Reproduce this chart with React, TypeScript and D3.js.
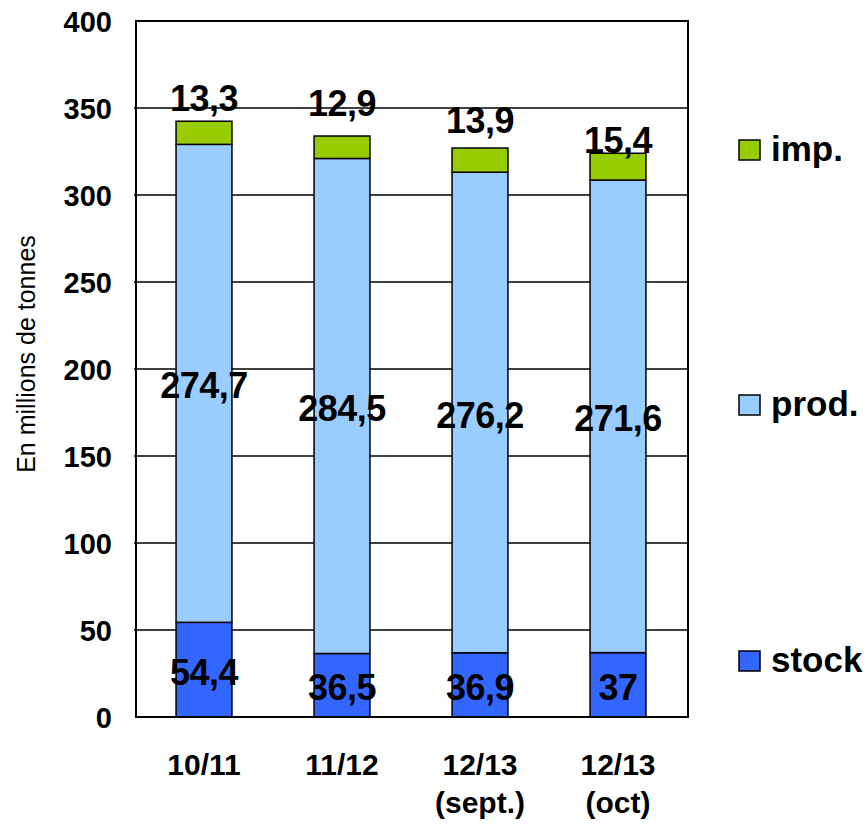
import React from "react";
import * as d3 from "d3";

const categories = ["10/11", "11/12", "12/13|(sept.)", "12/13|(oct)"];
const stock = [54.4, 36.5, 36.9, 37];
const prod = [274.7, 284.5, 276.2, 271.6];
const imp = [13.3, 12.9, 13.9, 15.4];
const stockLabels = ["54,4", "36,5", "36,9", "37"];
const prodLabels = ["274,7", "284,5", "276,2", "271,6"];
const impLabels = ["13,3", "12,9", "13,9", "15,4"];
const impLabelGap = [10, 20, 15, 0];
const yTicks = [0, 50, 100, 150, 200, 250, 300, 350, 400];
const seriesNames = ["stock", "prod.", "imp."];
const colors = ["#3366FF", "#99CCFF", "#99CC00"];

const W = 866;
const H = 825;
const left = 136;
const right = 688;
const top = 21;
const bottom = 717;
const FONT = "'Liberation Sans', Arial, sans-serif";

export default function App() {
  const x = d3.scaleBand<string>().domain(categories).range([left - 1, right - 1]).padding(0);
  const y = d3.scaleLinear().domain([0, 400]).range([bottom, top]);
  const bw = x.bandwidth() * 0.405;

  const rows = categories.map((c, i) => ({ c, stock: stock[i], prod: prod[i], imp: imp[i] }));
  const stacked = d3.stack<any>().keys(["stock", "prod", "imp"])(rows);
  const labelSets = [stockLabels, prodLabels, impLabels];

  const legendY = { "imp.": 140, "prod.": 395, "stock": 651 } as Record<string, number>;

  return (
    <svg width={W} height={H} style={{ position: "absolute", left: 0, top: 0 }} fontFamily={FONT}>
      <rect x={0} y={0} width={W} height={H} fill="#fff" />
      {yTicks.slice(1, -1).map((t) => (
        <line key={t} x1={left - 2} x2={right} y1={y(t)} y2={y(t)} stroke="#000" strokeWidth={1.5} />
      ))}
      {stacked.map((s, si) =>
        s.map((d, i) => (
          <rect
            key={si + "-" + i}
            x={(x(categories[i]) as number) + x.bandwidth() / 2 - bw / 2}
            y={y(d[1])}
            width={bw}
            height={y(d[0]) - y(d[1])}
            fill={colors[si]}
            stroke="#000"
            strokeWidth={1.5}
          />
        ))
      )}
      <rect x={left} y={top} width={right - left} height={bottom - top} fill="none" stroke="#000" strokeWidth={2} />
      {yTicks.map((t) => (
        <text key={t} x={112} y={y(t) + 11} textAnchor="end" fontSize={29} fontWeight="bold" fill="#000">
          {t}
        </text>
      ))}
      <text
        transform={`translate(35,354) rotate(-90)`}
        textAnchor="middle"
        fontSize={25}
        fill="#000"
      >
        En millions de tonnes
      </text>
      {categories.map((c) => {
        const cx = (x(c) as number) + x.bandwidth() / 2;
        return c.split("|").map((line, li) => (
          <text key={c + li} x={cx} y={775 + li * 38} textAnchor="middle" fontSize={30} fontWeight="bold" fill="#000">
            {line}
          </text>
        ));
      })}
      {stacked.map((s, si) =>
        s.map((d, i) => {
          const cx = (x(categories[i]) as number) + x.bandwidth() / 2;
          const yy = si < 2 ? (y(d[0]) + y(d[1])) / 2 + 15 : y(d[1]) - impLabelGap[i];
          return (
            <text key={"l" + si + i} x={cx} y={yy} textAnchor="middle" fontSize={36} fontWeight="bold" fill="#000" letterSpacing={-0.5}>
              {labelSets[si][i]}
            </text>
          );
        })
      )}
      {seriesNames.map((n, si) => (
        <g key={n}>
          <rect x={739} y={legendY[n]} width={21} height={20} fill={colors[si]} stroke="#000" strokeWidth={1.5} />
          <text x={771} y={legendY[n] + 21} fontSize={35} fontWeight="bold" fill="#000">
            {n}
          </text>
        </g>
      ))}
    </svg>
  );
}
